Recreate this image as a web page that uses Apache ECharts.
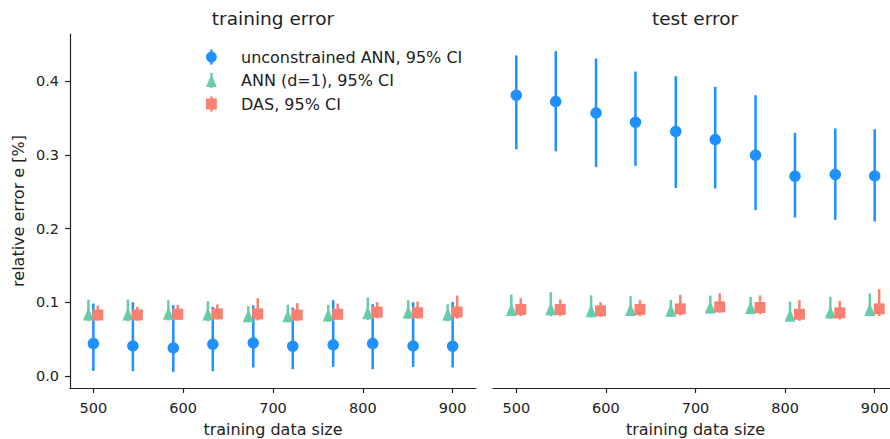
<!DOCTYPE html>
<html>
<head>
<meta charset="utf-8">
<script src="https://cdn.jsdelivr.net/npm/echarts@6/dist/echarts.min.js"></script>
<style>html,body{margin:0;padding:0;background:#fff}#c{width:890px;height:439px}</style>
</head>
<body>
<div id="c"></div>
<script>
// ---- data ----
const sizes = [500, 544, 589, 633, 678, 722, 767, 811, 856, 900];
const xTicks = [500, 600, 700, 800, 900];
const yTicks = [0.0, 0.1, 0.2, 0.3, 0.4];

// training error
const trainAnnMean = [0.0443, 0.0411, 0.0384, 0.0434, 0.0452, 0.0407, 0.0425, 0.0443, 0.0411, 0.0407];
const trainAnnLo   = [0.0072, 0.0068, 0.0059, 0.0068, 0.0118, 0.0095, 0.0126, 0.0095, 0.0126, 0.0118];
const trainAnnHi   = [0.0985, 0.1003, 0.0963, 0.0940, 0.0960, 0.0930, 0.1030, 0.0976, 0.1003, 0.1008];
const trainD1Mean  = [0.0845, 0.0845, 0.0854, 0.0845, 0.0820, 0.0820, 0.0830, 0.0859, 0.0870, 0.0840];
const trainD1Lo    = [0.0745, 0.0745, 0.0755, 0.0745, 0.0730, 0.0730, 0.0740, 0.0760, 0.0775, 0.0745];
const trainD1Hi    = [0.1040, 0.1040, 0.1030, 0.1017, 0.0950, 0.0967, 0.0967, 0.1067, 0.1030, 0.0976];
const trainDasMean = [0.0830, 0.0830, 0.0840, 0.0845, 0.0845, 0.0830, 0.0840, 0.0868, 0.0860, 0.0870];
const trainDasLo   = [0.0755, 0.0755, 0.0765, 0.0770, 0.0755, 0.0750, 0.0765, 0.0785, 0.0780, 0.0780];
const trainDasHi   = [0.0960, 0.0940, 0.0967, 0.0970, 0.1058, 0.0990, 0.0985, 0.1003, 0.1012, 0.1094];

// test error
const testAnnMean = [0.3810, 0.3724, 0.3570, 0.3444, 0.3318, 0.3209, 0.2997, 0.2712, 0.2735, 0.2716];
const testAnnLo   = [0.3078, 0.3050, 0.2838, 0.2852, 0.2553, 0.2545, 0.2251, 0.2152, 0.2120, 0.2097];
const testAnnHi   = [0.4350, 0.4407, 0.4308, 0.4131, 0.4068, 0.3923, 0.3810, 0.3299, 0.3359, 0.3349];
const testD1Mean  = [0.0904, 0.0913, 0.0886, 0.0904, 0.0895, 0.0940, 0.0931, 0.0827, 0.0872, 0.0904];
const testD1Lo    = [0.0814, 0.0814, 0.0796, 0.0814, 0.0810, 0.0850, 0.0840, 0.0745, 0.0780, 0.0810];
const testD1Hi    = [0.1107, 0.1139, 0.1098, 0.1085, 0.1031, 0.1094, 0.1076, 0.1012, 0.1076, 0.1121];
const testDasMean = [0.0904, 0.0904, 0.0886, 0.0904, 0.0913, 0.0940, 0.0931, 0.0841, 0.0859, 0.0913];
const testDasLo   = [0.0814, 0.0814, 0.0805, 0.0814, 0.0823, 0.0859, 0.0840, 0.0750, 0.0768, 0.0814];
const testDasHi   = [0.1058, 0.1040, 0.1003, 0.1031, 0.1103, 0.1125, 0.1094, 0.1031, 0.1021, 0.1180];

const names = ['unconstrained ANN, 95% CI', 'ANN (d=1), 95% CI', 'DAS, 95% CI'];
const colors = ['#1E90FF', '#66CDAA', '#FA8072'];
const dodge = [0, -5.5, 5];

// ---- chart ----
const FONT = 'DejaVu Sans';
const TXT = '#222';
const chart = echarts.init(document.getElementById('c'), null, {renderer: 'svg'});

function errSeries(idx, gi, lo, hi, z) {
  return {
    type: 'custom', xAxisIndex: gi, yAxisIndex: gi, z: z, silent: true,
    data: sizes.map((s, i) => [s + dodge[idx], lo[i], hi[i]]),
    encode: {x: 0, y: [1, 2]},
    renderItem: function (params, api) {
      const p1 = api.coord([api.value(0), api.value(1)]);
      const p2 = api.coord([api.value(0), api.value(2)]);
      return {type: 'line', shape: {x1: p1[0], y1: p1[1], x2: p2[0], y2: p2[1]},
              style: {stroke: colors[idx], lineWidth: 2.5}};
    }
  };
}
const symbols = ['circle', 'triangle', 'rect'];
const symSizes = [11.5, [11, 13], 11];
function markSeries(idx, gi, mean, z) {
  return {
    type: 'scatter', name: names[idx], xAxisIndex: gi, yAxisIndex: gi, z: z,
    symbol: symbols[idx], symbolSize: symSizes[idx],
    itemStyle: {color: colors[idx], opacity: 1},
    data: sizes.map((s, i) => [s + dodge[idx], mean[i]])
  };
}

const grids = [
  {left: 70, width: 406, top: 34, bottom: 51, outerBoundsMode: 'none', containLabel: false},
  {left: 493, width: 405, top: 34, bottom: 51, outerBoundsMode: 'none', containLabel: false}
];
function xAx(gi) {
  return {
    type: 'value', gridIndex: gi, min: 474, max: 926,
    name: 'training data size', nameLocation: 'middle', nameGap: 33,
    nameTextStyle: {fontFamily: FONT, fontSize: 16, color: TXT},
    splitLine: {show: false},
    axisLine: {onZero: false, lineStyle: {color: TXT, width: 1.2}},
    axisTick: {customValues: xTicks, length: 5, lineStyle: {color: TXT, width: 1.2}},
    axisLabel: {customValues: xTicks, margin: 12, fontFamily: FONT, fontSize: 14.5, color: TXT}
  };
}
function yAx(gi) {
  const a = {
    type: 'value', gridIndex: gi, min: -0.016, max: 0.464,
    splitLine: {show: false}
  };
  if (gi === 0) {
    Object.assign(a, {
      name: 'relative error e [%]', nameLocation: 'middle', nameGap: 44, nameRotate: 90,
      nameTextStyle: {fontFamily: FONT, fontSize: 16, color: TXT},
      axisLine: {show: true, lineStyle: {color: TXT, width: 1.2}},
      axisTick: {show: true, customValues: yTicks, length: 5, lineStyle: {color: TXT, width: 1.2}},
      axisLabel: {customValues: yTicks, margin: 11, fontFamily: FONT, fontSize: 14.5, color: TXT,
                  formatter: v => v.toFixed(1)}
    });
  } else {
    Object.assign(a, {show: false});
  }
  return a;
}

// legend icons: marker + errorbar drawn in the left 10 units of a 30x15 box
const pad = ' M30,0 L30,15 L30,15 Z';
const option = {
  animation: false,
  backgroundColor: '#fff',
  title: [
    {text: 'training error', left: 273, top: 9, textAlign: 'center', padding: 0,
     textStyle: {fontFamily: FONT, fontSize: 18.5, fontWeight: 'normal', color: TXT}},
    {text: 'test error', left: 695, top: 9, textAlign: 'center', padding: 0,
     textStyle: {fontFamily: FONT, fontSize: 18.5, fontWeight: 'normal', color: TXT}}
  ],
  legend: {
    orient: 'vertical', left: 206, top: 49, padding: 0,
    itemWidth: 30, itemHeight: 15, itemGap: 7.5, symbolKeepAspect: false,
    textStyle: {fontFamily: FONT, fontSize: 16, color: TXT, lineHeight: 16},
    data: [
      {name: names[0], icon: 'path://M3.75,0 H6.25 V15 H3.75 Z M5,2 A5.5,5.5 0 1 1 5,13 A5.5,5.5 0 1 1 5,2 Z' + pad},
      {name: names[1], icon: 'path://M3.75,0 H6.25 V15 H3.75 Z M5,1.5 L10.5,14 L-0.5,14 Z' + pad},
      {name: names[2], icon: 'path://M3.75,0 H6.25 V15 H3.75 Z M-0.5,2 H10.5 V13 H-0.5 Z' + pad}
    ]
  },
  grid: grids,
  xAxis: [xAx(0), xAx(1)],
  yAxis: [yAx(0), yAx(1)],
  series: [
    errSeries(0, 0, trainAnnLo, trainAnnHi, 2), markSeries(0, 0, trainAnnMean, 3),
    errSeries(1, 0, trainD1Lo, trainD1Hi, 4),   markSeries(1, 0, trainD1Mean, 5),
    errSeries(2, 0, trainDasLo, trainDasHi, 6), markSeries(2, 0, trainDasMean, 7),
    errSeries(0, 1, testAnnLo, testAnnHi, 2),   markSeries(0, 1, testAnnMean, 3),
    errSeries(1, 1, testD1Lo, testD1Hi, 4),     markSeries(1, 1, testD1Mean, 5),
    errSeries(2, 1, testDasLo, testDasHi, 6),   markSeries(2, 1, testDasMean, 7)
  ]
};
chart.setOption(option);
</script>
</body>
</html>
